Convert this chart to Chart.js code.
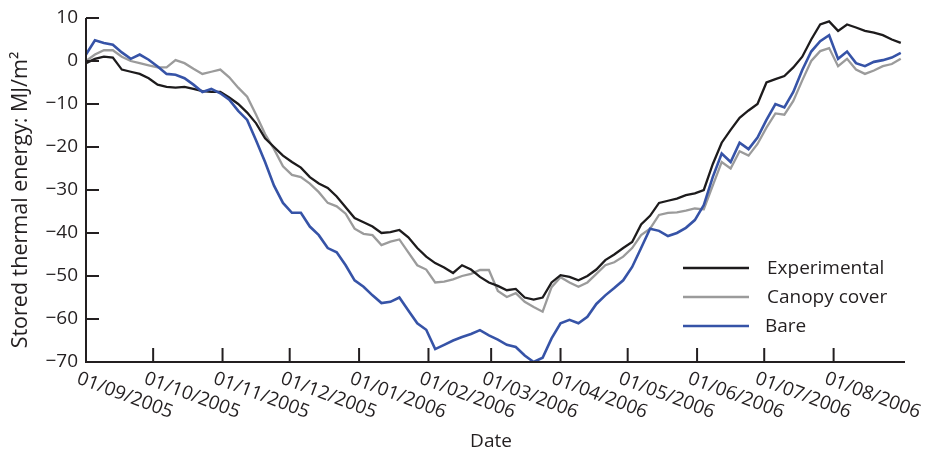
<!DOCTYPE html>
<html>
<head>
<meta charset="utf-8">
<script src="https://cdn.jsdelivr.net/npm/chart.js@4.4.0/dist/chart.umd.min.js"></script>
<style>
  html, body { margin: 0; padding: 0; background: #fff; }
</style>
</head>
<body>
<canvas id="chart" width="933" height="454"></canvas>
<script>
// days since 01/09/2005
const days = [0, 4, 8, 12, 16, 20, 24, 28, 32, 36, 40, 44, 48, 52, 56, 60, 64, 68, 72, 76,
  80, 84, 88, 92, 96, 100, 104, 108, 112, 116, 120, 124, 128, 132, 136, 140, 144, 148, 152, 156,
  160, 164, 168, 172, 176, 180, 184, 188, 192, 196, 200, 204, 208, 212, 216, 220, 224, 228, 232, 236,
  240, 244, 248, 252, 256, 260, 264, 268, 272, 276, 280, 284, 288, 292, 296, 300, 304, 308, 312, 316,
  320, 324, 328, 332, 336, 340, 344, 348, 352, 356, 360, 364];

const experimental = [-0.5, 0.5, 1, 0.8, -2, -2.5, -3, -4, -5.5, -6, -6.2, -6, -6.5, -7, -7.2, -7.2, -8.5, -10, -12, -14.5,
  -18, -20, -22, -23.5, -24.8, -27, -28.5, -29.5, -31.5, -34, -36.5, -37.5, -38.5, -40, -39.8, -39.3, -41, -43.5, -45.5, -47,
  -48, -49.3, -47.5, -48.5, -50.2, -51.5, -52.3, -53.3, -53, -55, -55.5, -55, -51.5, -49.8, -50.2, -51, -50, -48.5, -46.3, -45,
  -43.5, -42.1, -38, -36, -33, -32.5, -32, -31.2, -30.8, -30, -24, -19, -16, -13.2, -11.5, -10, -5, -4.2, -3.5, -1.5,
  1, 5, 8.5, 9.2, 7, 8.5, 7.8, 7, 6.6, 6, 5, 4.2];

const canopyCover = [0, 1.5, 2.5, 2.5, 1, 0, -0.5, -1, -1.5, -1.5, 0.2, -0.5, -1.8, -3, -2.5, -2, -3.8, -6.2, -8.3, -12.5,
  -17, -20.5, -24.5, -26.5, -27, -28.5, -30.5, -33, -33.8, -35.5, -39, -40.2, -40.5, -42.8, -42, -41.5, -44.5, -47.5, -48.5, -51.5,
  -51.3, -50.8, -50, -49.5, -48.6, -48.6, -53.5, -54.9, -54, -56, -57.2, -58.3, -52.6, -50.3, -51.5, -52.5, -51.5, -49.5, -47.5, -46.8,
  -45.5, -43.5, -40.5, -39, -35.8, -35.3, -35.2, -34.8, -34.3, -34.5, -29, -23.5, -25, -21, -22, -19.3, -15.5, -12.2, -12.5, -9.3,
  -4.5, 0, 2.3, 3, -1.2, 0.5, -2, -3, -2.2, -1.2, -0.7, 0.5];

const bare = [1.5, 4.8, 4.2, 3.8, 2, 0.5, 1.5, 0.3, -1.3, -3, -3.2, -4, -5.5, -7.2, -6.5, -7.5, -9, -11.6, -13.7, -18.5,
  -23.5, -29, -33, -35.3, -35.3, -38.5, -40.5, -43.5, -44.5, -47.5, -51, -52.5, -54.5, -56.3, -56, -55, -58, -61, -62.5, -67,
  -66, -65, -64.2, -63.5, -62.6, -63.8, -64.8, -66, -66.5, -68.5, -70, -69, -64.5, -61, -60.2, -61, -59.5, -56.5, -54.5, -52.8,
  -51, -47.9, -43.5, -39, -39.5, -40.7, -40, -38.8, -37, -33.5, -27, -21.5, -23.5, -19, -20.5, -17.8, -13.7, -10, -10.8, -7.2,
  -2.1, 2.2, 4.6, 6, 0.5, 2.2, -0.5, -1.2, -0.2, 0.2, 0.8, 1.9];

const monthDays = [0, 30, 61, 91, 122, 153, 181, 212, 242, 273, 303, 334];
const monthLabels = ['01/09/2005', '01/10/2005', '01/11/2005', '01/12/2005', '01/01/2006', '01/02/2006',
  '01/03/2006', '01/04/2006', '01/05/2006', '01/06/2006', '01/07/2006', '01/08/2006'];
const yTicks = [10, 0, -10, -20, -30, -40, -50, -60, -70];

const seriesNames = ['Experimental', 'Canopy cover', 'Bare'];
const seriesColors = ['#1d1b1c', '#9b9b9b', '#3653a7'];

const ink = '#231f20';
const font = '"Open Sans", "Noto Sans", sans-serif';

// axes, ticks, titles and legend drawn like the printed figure
const paperAxes = {
  id: 'paperAxes',
  afterDraw(chart) {
    const ctx = chart.ctx;
    const xs = chart.scales.x, ys = chart.scales.y;
    const left = xs.left, right = xs.right, top = ys.top, bottom = ys.bottom;
    ctx.save();
    ctx.strokeStyle = ink;
    ctx.fillStyle = ink;
    ctx.lineWidth = 2;
    ctx.beginPath();
    ctx.moveTo(left, top);
    ctx.lineTo(left, bottom);
    ctx.lineTo(right + 2, bottom);
    ctx.stroke();

    // y ticks (inward)
    ctx.font = '19px ' + font;
    ctx.textAlign = 'right';
    ctx.textBaseline = 'middle';
    yTicks.forEach(v => {
      const y = ys.getPixelForValue(v);
      ctx.beginPath();
      ctx.moveTo(left, y);
      ctx.lineTo(left + 13, y);
      ctx.stroke();
      ctx.fillText(v < 0 ? '\u2212' + Math.abs(v) : String(v), left - 8, y);
    });

    // x ticks (inward) + slanted labels
    monthDays.forEach((d, i) => {
      const x = xs.getPixelForValue(d);
      if (i > 0) {
        ctx.beginPath();
        ctx.moveTo(x, bottom);
        ctx.lineTo(x, bottom - 14);
        ctx.stroke();
      }
      ctx.save();
      ctx.translate(x - 5, bottom + 7);
      ctx.rotate(20.5 * Math.PI / 180);
      ctx.textAlign = 'left';
      ctx.textBaseline = 'top';
      ctx.fillText(monthLabels[i], 0, 0);
      ctx.restore();
    });

    // axis titles
    ctx.textAlign = 'center';
    ctx.textBaseline = 'middle';
    ctx.fillText('Date', 491, 442);
    ctx.save();
    ctx.translate(21, 200);
    ctx.rotate(-Math.PI / 2);
    ctx.font = '21.5px ' + font;
    ctx.fillText('Stored thermal energy: MJ/m\u00b2', 0, 0);
    ctx.restore();

    // legend
    const lx = 683, ly = [268, 297, 326];
    ctx.textAlign = 'left';
    seriesNames.forEach((name, i) => {
      ctx.strokeStyle = seriesColors[i];
      ctx.lineWidth = 2.5;
      ctx.beginPath();
      ctx.moveTo(lx, ly[i]);
      ctx.lineTo(lx + 66, ly[i]);
      ctx.stroke();
      ctx.fillStyle = ink;
      ctx.fillText(name, lx + (i === 2 ? 82 : 84), ly[i] + 1);
    });
    ctx.restore();
  }
};

function toPoints(values) {
  return values.map((v, i) => ({ x: days[i], y: v }));
}

new Chart(document.getElementById('chart'), {
  type: 'line',
  data: {
    datasets: [
      { label: seriesNames[2], data: toPoints(bare), borderColor: seriesColors[2], borderWidth: 2.6, order: 0 },
      { label: seriesNames[0], data: toPoints(experimental), borderColor: seriesColors[0], borderWidth: 2.3, order: 1 },
      { label: seriesNames[1], data: toPoints(canopyCover), borderColor: seriesColors[1], borderWidth: 2.3, order: 2 }
    ]
  },
  options: {
    responsive: false,
    animation: false,
    elements: { point: { radius: 0 }, line: { tension: 0 } },
    layout: { padding: { left: 86, right: 30, top: 18, bottom: 92 } },
    scales: {
      x: { type: 'linear', min: 0, max: 365, display: false },
      y: { type: 'linear', min: -70, max: 10, display: false }
    },
    plugins: { legend: { display: false }, tooltip: { enabled: false } }
  },
  plugins: [paperAxes]
});
</script>
</body>
</html>
